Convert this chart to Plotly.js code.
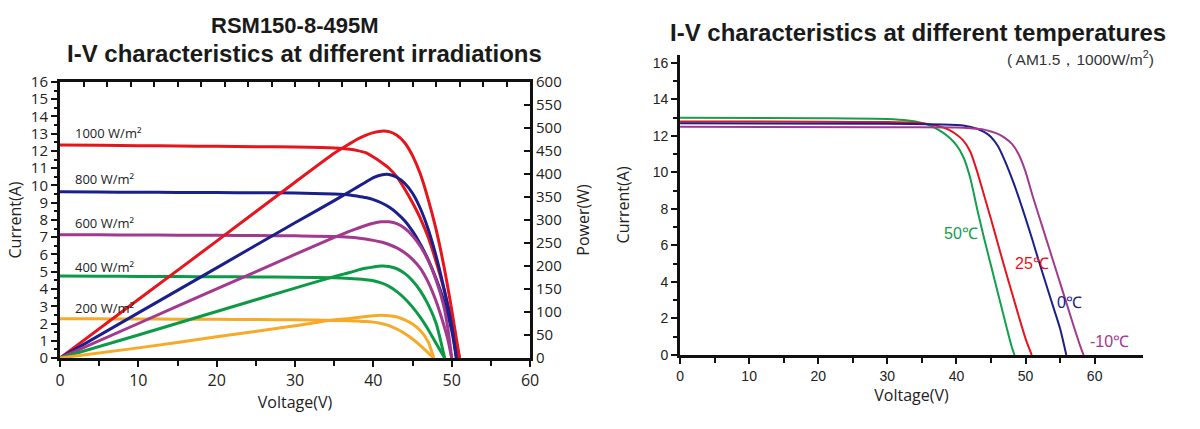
<!DOCTYPE html>
<html>
<head>
<meta charset="utf-8">
<script src="https://cdn.plot.ly/plotly-3.0.1.min.js"></script>
<style>html,body{margin:0;padding:0;background:#fff}#chart{width:1200px;height:429px}</style>
</head>
<body>
<div id="chart"></div>
<script>
// ---------- Left chart: I-V and P-V at different irradiations ----------
const irrLabels = ['1000 W/m²', '800 W/m²', '600 W/m²', '400 W/m²', '200 W/m²'];
const irrLabelY = [13.05, 10.35, 7.8, 5.3, 2.9];

const ivV1000 = [0,5,10,15,20,25,30,35,37,38,39,40,41,42,43,44,45,46,47,48,49,50,51];
const ivI1000 = [12.35,12.33,12.31,12.29,12.27,12.25,12.23,12.18,12.1,12.02,11.9,11.65,11.35,11.0,10.5,9.8,9.0,8.1,7.0,5.6,4.0,2.1,0];
const ivV800  = [0,5,10,15,20,25,30,35,37,38,39,40,41,42,43,44,45,46,47,48,49,50,50.6];
const ivI800  = [9.63,9.62,9.61,9.6,9.59,9.58,9.56,9.5,9.45,9.38,9.3,9.18,9.0,8.75,8.4,7.95,7.35,6.6,5.7,4.6,3.3,1.6,0];
const ivV600  = [0,5,10,15,20,25,30,35,37,38,39,40,41,42,43,44,45,46,47,48,49,49.5,50];
const ivI600  = [7.15,7.14,7.13,7.12,7.11,7.1,7.08,7.05,7.0,6.96,6.9,6.82,6.72,6.58,6.38,6.1,5.72,5.2,4.4,3.3,1.9,1.1,0];
const ivV400  = [0,5,10,15,20,25,30,35,37,38,39,40,41,42,43,44,45,46,47,48,49.1];
const ivI400  = [4.75,4.74,4.73,4.72,4.71,4.7,4.68,4.65,4.61,4.58,4.54,4.48,4.35,4.15,3.85,3.45,2.95,2.35,1.65,0.85,0];
const ivV200  = [0,5,10,15,20,25,30,35,37,38,39,40,41,42,43,44,45,46,47,47.7];
const ivI200  = [2.28,2.27,2.26,2.25,2.24,2.23,2.21,2.18,2.16,2.14,2.12,2.08,2.0,1.88,1.68,1.42,1.1,0.72,0.3,0];

const pvV1000 = [0,10,20,30,35,37,38,39,40,41,42,43,44,45,46,47,48,49,50,51];
const pvP1000 = [0,127,254,382,445,466,476,484,490,493,492,484,468,440,400,345,280,200,105,0];
const pvV800  = [0,10,20,30,35,37,38,39,40,41,42,43,44,45,46,47,48,49,50,50.6];
const pvP800  = [0,98,196,294,342,362,372,382,392,398,399,393,380,358,325,280,222,152,70,0];
const pvV600  = [0,10,20,30,35,37,38,39,40,41,42,43,44,45,46,47,48,49,49.5,50];
const pvP600  = [0,75,150,225,262,276,282,288,293,296,296,292,282,266,243,212,170,112,65,0];
const pvV400  = [0,10,20,30,35,37,38,39,40,41,42,43,44,45,46,47,48,49.1];
const pvP400  = [0,50,101,152,177,186,191,195,198,200,199,194,184,168,146,116,76,0];
const pvV200  = [0,10,20,30,35,37,38,39,40,41,42,43,44,45,46,47,47.7];
const pvP200  = [0,22,46,70,83,86,88,90,92,93,92,89,83,74,60,35,0];

// ---------- Right chart: I-V at different temperatures ----------
const tempLabels = ['50℃', '25℃', '0℃', '-10℃'];
const tempLabelX = [40.6, 50.9, 56.3, 62.2];
const tempLabelY = [6.66, 5.0, 2.85, 0.73];

const tV50  = [0,20,30,33,35,36,37,38,39,40,41,42,43,44,45,46,47,48,48.4];
const tI50  = [13.0,12.97,12.93,12.85,12.72,12.6,12.42,12.2,11.9,11.5,10.85,9.7,8.0,6.4,4.9,3.4,1.9,0.45,0];
const tV25  = [0,20,30,34,36,38,39,40,41,42,43,44,45,46,47,48,49,50,50.9];
const tI25  = [12.8,12.78,12.76,12.72,12.65,12.48,12.32,12.08,11.75,11.15,10.05,8.75,7.45,6.1,4.75,3.45,2.15,0.9,0];
const tV0   = [0,30,38,41,42,43,44,45,46,47,48,49,50,51,52,53,54,55,55.9];
const tI0   = [12.7,12.67,12.63,12.58,12.5,12.4,12.22,11.95,11.45,10.65,9.7,8.65,7.5,6.3,5.05,3.85,2.65,1.45,0];
const tVm10 = [0,30,40,42,44,45,46,47,48,49,50,51,52,53,54,55,56,57,58,58.4];
const tIm10 = [12.5,12.48,12.46,12.42,12.35,12.25,12.12,11.9,11.58,11.0,10.05,8.75,7.55,6.35,5.15,3.95,2.75,1.55,0.4,0];

const irrColors  = ['#e8141c', '#1b1f8c', '#a3398f', '#0d9a47', '#f7a928'];
const tempColors = ['#12a04c', '#e8141c', '#1b1f8c', '#a3398f'];

const ivSets = [[ivV1000, ivI1000], [ivV800, ivI800], [ivV600, ivI600], [ivV400, ivI400], [ivV200, ivI200]];
const pvSets = [[pvV1000, pvP1000], [pvV800, pvP800], [pvV600, pvP600], [pvV400, pvP400], [pvV200, pvP200]];
const tSets  = [[tV50, tI50], [tV25, tI25], [tV0, tI0], [tVm10, tIm10]];

const traces = [];
ivSets.forEach((s, k) => traces.push({
  x: s[0], y: s[1], type: 'scatter', mode: 'lines', xaxis: 'x', yaxis: 'y',
  name: 'I ' + irrLabels[k], line: {color: irrColors[k], width: 3, shape: 'spline', smoothing: 0.6},
  hoverinfo: 'skip'
}));
pvSets.forEach((s, k) => traces.push({
  x: s[0], y: s[1], type: 'scatter', mode: 'lines', xaxis: 'x2', yaxis: 'y2',
  name: 'P ' + irrLabels[k], line: {color: irrColors[k], width: 3, shape: 'spline', smoothing: 0.6},
  hoverinfo: 'skip'
}));
tSets.forEach((s, k) => traces.push({
  x: s[0], y: s[1], type: 'scatter', mode: 'lines', xaxis: 'x3', yaxis: 'y3',
  name: tempLabels[k], line: {color: tempColors[k], width: 2, shape: 'spline', smoothing: 0.6},
  hoverinfo: 'skip'
}));

const sansL = 'Open Sans, Noto Sans, sans-serif';
const arial = 'Liberation Sans, Arial, sans-serif';
const ink = '#111';

const annotations = [
  {text: '<b>RSM150-8-495M</b>', xref: 'paper', yref: 'paper', x: 0.246, y: 0.941, xanchor: 'center', yanchor: 'middle',
   showarrow: false, font: {family: arial, size: 22, color: '#1a1a1a'}},
  {text: '<b>I-V characteristics at different irradiations</b>', xref: 'paper', yref: 'paper', x: 0.2535, y: 0.876,
   xanchor: 'center', yanchor: 'middle', showarrow: false, font: {family: arial, size: 24, color: '#1a1a1a'}},
  {text: '<b>I-V characteristics at different temperatures</b>', xref: 'paper', yref: 'paper', x: 0.765, y: 0.924,
   xanchor: 'center', yanchor: 'middle', showarrow: false, font: {family: arial, size: 24, color: '#1a1a1a'}},
  {text: '( AM1.5，1000W/m<sup>2</sup>)', xref: 'paper', yref: 'paper', x: 0.963, y: 0.864,
   xanchor: 'right', yanchor: 'middle', showarrow: false, font: {family: arial, size: 15.5, color: '#333'}}
];
irrLabels.forEach((t, k) => annotations.push({
  text: t, xref: 'x', yref: 'y', x: 1.7, y: irrLabelY[k], xanchor: 'left', yanchor: 'middle',
  showarrow: false, font: {family: sansL, size: 13, color: '#222'}
}));
tempLabels.forEach((t, k) => annotations.push({
  text: t, xref: 'x3', yref: 'y3', x: tempLabelX[k], y: tempLabelY[k], xanchor: 'center', yanchor: 'middle',
  showarrow: false, font: {family: arial, size: 16, color: tempColors[k]}
}));

const layout = {
  width: 1200, height: 429,
  margin: {l: 0, r: 0, t: 0, b: 0},
  paper_bgcolor: '#fff', plot_bgcolor: 'rgba(0,0,0,0)',
  showlegend: false,
  xaxis: {
    domain: [0.05, 0.4417], range: [0, 60], anchor: 'y',
    showline: true, linecolor: ink, linewidth: 3, zeroline: false, showgrid: false,
    ticks: 'outside', ticklen: 6, tickwidth: 2, tickcolor: ink, dtick: 10, tick0: 0,
    minor: {dtick: 5, ticks: 'outside', ticklen: 5, tickwidth: 2, tickcolor: ink, showgrid: false},
    tickfont: {family: sansL, size: 16, color: '#222'},
    title: {text: 'Voltage(V)', font: {family: sansL, size: 16, color: '#222'}, standoff: 6}
  },
  xaxis2: {
    overlaying: 'x', side: 'top', anchor: 'y', range: [0, 60],
    showline: true, linecolor: ink, linewidth: 3, zeroline: false, showgrid: false,
    ticks: 'inside', ticklen: 5, tickwidth: 2, tickcolor: ink, dtick: 3, tick0: 0, showticklabels: false
  },
  yaxis: {
    domain: [0.1655, 0.8089], range: [0, 16], anchor: 'x',
    showline: true, linecolor: ink, linewidth: 3, zeroline: false, showgrid: false,
    ticks: 'outside', ticklen: 6, tickwidth: 2, tickcolor: ink, dtick: 1, tick0: 0,
    minor: {dtick: 0.5, ticks: 'outside', ticklen: 3, tickwidth: 2, tickcolor: ink, showgrid: false},
    tickfont: {family: sansL, size: 15, color: '#222'},
    title: {text: 'Current(A)', font: {family: sansL, size: 16, color: '#222'}, standoff: 6}
  },
  yaxis2: {
    overlaying: 'y', side: 'right', anchor: 'x', range: [0, 600],
    showline: true, linecolor: ink, linewidth: 3, zeroline: false, showgrid: false,
    ticks: 'inside', ticklen: 6, tickwidth: 2, tickcolor: ink, dtick: 50, tick0: 0,
    tickfont: {family: sansL, size: 15, color: '#222'},
    title: {text: 'Power(W)', font: {family: sansL, size: 16, color: '#222'}, standoff: 18}
  },
  xaxis3: {
    domain: [0.5667, 0.9525], range: [0, 67], anchor: 'y3',
    showline: true, linecolor: ink, linewidth: 3, zeroline: false, showgrid: false,
    ticks: 'outside', ticklen: 6, tickwidth: 2, tickcolor: ink,
    tickmode: 'array', tickvals: [0, 10, 20, 30, 40, 50, 60],
    minor: {tickmode: 'array', tickvals: [5, 15, 25, 35, 45, 55], ticks: 'outside', ticklen: 5, tickwidth: 2, tickcolor: ink, showgrid: false},
    tickfont: {family: arial, size: 14, color: '#222'},
    title: {text: 'Voltage(V)', font: {family: sansL, size: 16, color: '#222'}, standoff: 6}
  },
  yaxis3: {
    domain: [0.1725, 0.8723], range: [0, 16.45], anchor: 'x3',
    showline: true, linecolor: ink, linewidth: 3, zeroline: false, showgrid: false,
    ticks: 'outside', ticklen: 6, tickwidth: 2, tickcolor: ink,
    tickmode: 'array', tickvals: [0, 2, 4, 6, 8, 10, 12, 14, 16],
    minor: {tickmode: 'array', tickvals: [1, 3, 5, 7, 9, 11, 13, 15], ticks: 'outside', ticklen: 4, tickwidth: 2, tickcolor: ink, showgrid: false},
    tickfont: {family: arial, size: 14, color: '#222'},
    title: {text: 'Current(A)', font: {family: sansL, size: 16, color: '#222'}, standoff: 20}
  },
  annotations: annotations
};

Plotly.newPlot('chart', traces, layout, {displayModeBar: false, staticPlot: true});
</script>
</body>
</html>
